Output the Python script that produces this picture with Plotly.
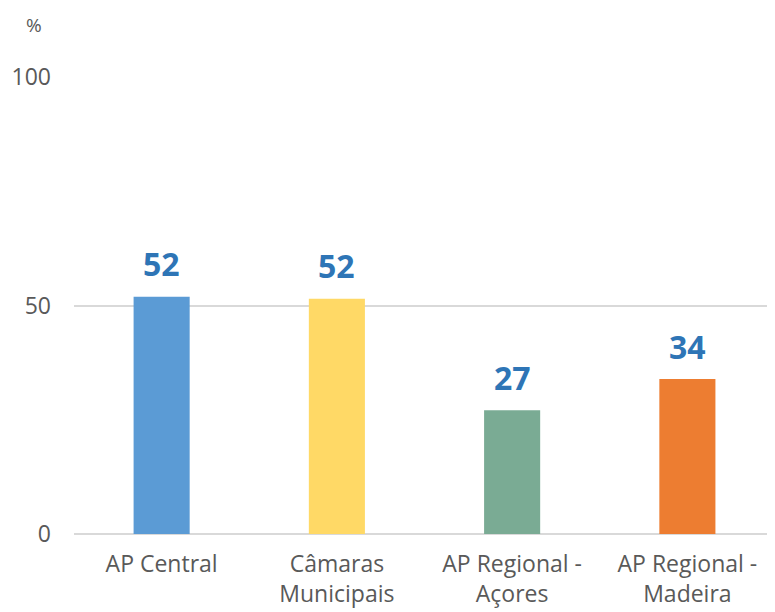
import plotly.graph_objects as go

categories = ["AP Central", "Câmaras<br>Municipais", "AP Regional -<br>Açores", "AP Regional -<br>Madeira"]
values = [51.9, 51.5, 27.1, 33.9]
labels = ["52", "52", "27", "34"]
colors = ["#5B9BD5", "#FFD966", "#7AAB94", "#ED7D31"]
y_ticks = [0, 50, 100]

FONT = "Open Sans"
GRAY = "#595959"

fig = go.Figure()
fig.add_trace(go.Bar(
    x=categories, y=values,
    marker=dict(color=colors, line=dict(width=0)),
    hoverinfo="skip",
))

for c, v, t in zip(categories, values, labels):
    fig.add_annotation(
        x=c, y=v, text=f"<b>{t}</b>", showarrow=False,
        yanchor="middle", yshift=33,
        font=dict(family=FONT, size=32, color="#2E75B6"),
    )

fig.add_annotation(
    xref="paper", yref="paper", x=-0.072, y=1.114,
    text="%", showarrow=False, xanchor="left", yanchor="middle",
    font=dict(family=FONT, size=19, color=GRAY),
)

fig.update_layout(
    width=767, height=604,
    margin=dict(l=66, r=0, t=69, b=78, autoexpand=False),
    plot_bgcolor="white", paper_bgcolor="white",
    bargap=0.68,
    showlegend=False,
    font=dict(family=FONT, size=23, color=GRAY),
    xaxis=dict(showline=False, showgrid=False, ticks="", ticklabelstandoff=14,
               automargin=False,
               tickfont=dict(family=FONT, size=23, color=GRAY)),
    yaxis=dict(range=[0, 100], tickvals=y_ticks, showgrid=True,
               gridcolor="#D9D9D9", gridwidth=1.5, zeroline=True,
               zerolinecolor="#D9D9D9", zerolinewidth=1.5,
               showline=False, ticks="", ticklabelstandoff=22,
               automargin=False,
               tickfont=dict(family=FONT, size=23, color=GRAY)),
)

fig.write_html("out.html")
